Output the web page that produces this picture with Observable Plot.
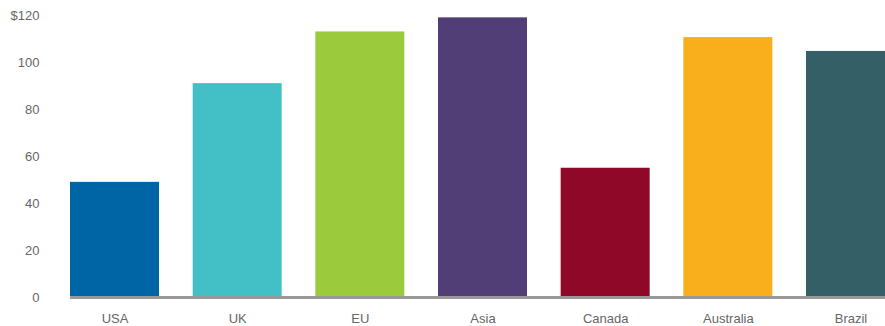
<!DOCTYPE html>
<html>
<head>
<meta charset="utf-8">
<script src="https://cdn.jsdelivr.net/npm/d3@7"></script>
<script src="https://cdn.jsdelivr.net/npm/@observablehq/plot@0.6"></script>
<style>
  html, body { margin: 0; padding: 0; background: #fff; }
  #chart svg { display: block; }
</style>
</head>
<body>
<div id="chart"></div>
<script>
const regions = ["USA", "UK", "EU", "Asia", "Canada", "Australia", "Brazil"];
const values = [49, 91, 113, 119, 55, 110.6, 104.7];
const colors = ["#0065A4", "#42C0C6", "#9BCB3C", "#523E76", "#8F0827", "#F9AE1B", "#355F66"];
const yTicks = [0, 20, 40, 60, 80, 100, 120];

const data = regions.map((r, i) => ({region: r, value: values[i]}));

const chart = Plot.plot({
  width: 885,
  height: 326,
  marginTop: 15,
  marginBottom: 29,
  marginLeft: 70,
  marginRight: 0,
  style: {fontFamily: "'Liberation Sans', Arial, sans-serif", fontSize: "13px", color: "#666", background: "#fff"},
  x: {domain: regions, range: [70, 895], paddingInner: 0.2745, paddingOuter: 0, round: false, label: null},
  y: {domain: [0, 120], label: null},
  color: {domain: regions, range: colors},
  marks: [
    Plot.barY(data, {x: "region", y: "value", fill: "region"}),
    Plot.ruleY([0], {stroke: "#999", strokeWidth: 3}),
    Plot.axisY({ticks: yTicks, tickSize: 0, tickPadding: 31, tickFormat: d => d === 120 ? "$120" : String(d), label: null}),
    Plot.axisX({tickSize: 0, tickPadding: 16, label: null})
  ]
});
document.getElementById("chart").appendChild(chart);
</script>
</body>
</html>
